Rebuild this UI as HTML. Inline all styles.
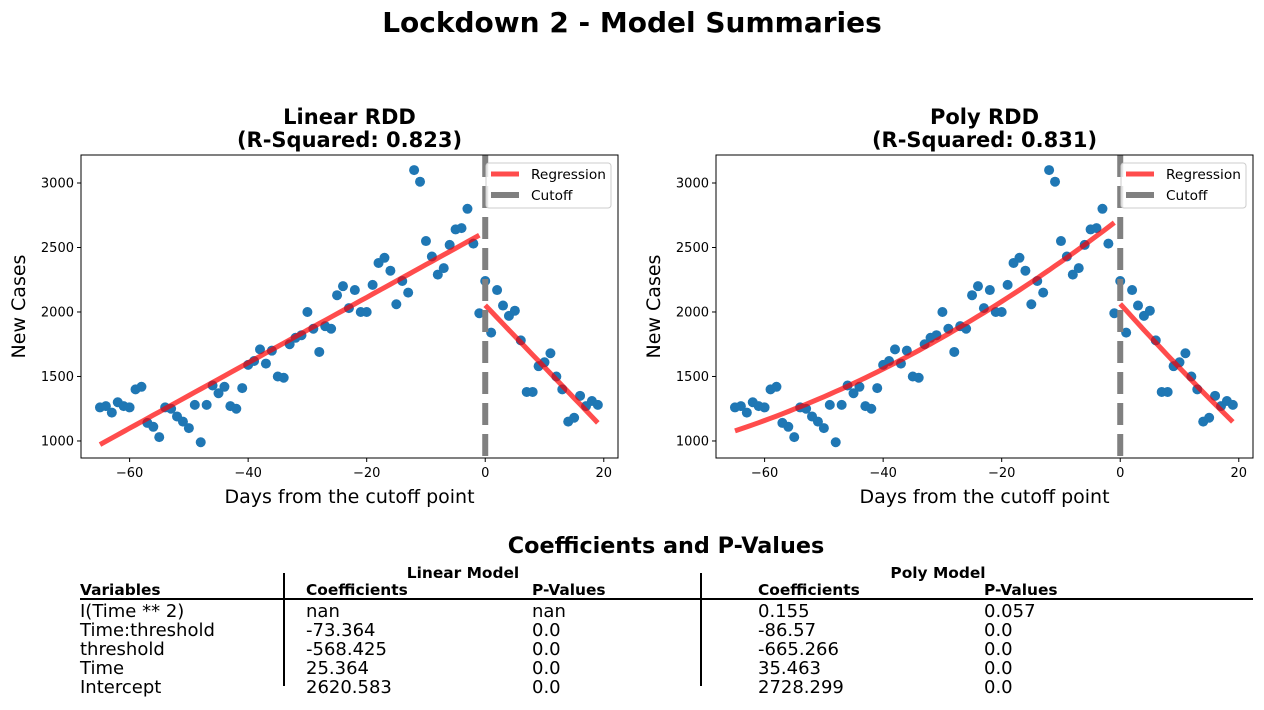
<!DOCTYPE html>
<html><head><meta charset="utf-8"><style>
body{margin:0;background:#fff;width:1264px;height:706px;overflow:hidden;font-family:"DejaVu Sans","Liberation Sans",sans-serif}
svg text{font-family:"DejaVu Sans","Liberation Sans",sans-serif}
</style></head><body>
<svg id="fig" width="1264" height="706" xmlns="http://www.w3.org/2000/svg">
<text x="632" y="32" text-anchor="middle" font-size="28" font-weight="bold">Lockdown 2 - Model Summaries</text>
<g id="c1"></g>
<g id="c2"></g>
<g font-size="18">
<text x="666" y="553" text-anchor="middle" font-size="22.3" font-weight="bold">Coefficients and P-Values</text>
<text x="463" y="578" text-anchor="middle" font-size="15.4" font-weight="bold">Linear Model</text>
<text x="938" y="578" text-anchor="middle" font-size="15.4" font-weight="bold">Poly Model</text>
<g font-size="15.4" font-weight="bold">
<text x="80" y="595">Variables</text><text x="306" y="595">Coefficients</text><text x="532" y="595">P-Values</text><text x="758" y="595">Coefficients</text><text x="984" y="595">P-Values</text></g>
<line x1="284" y1="573" x2="284" y2="686" stroke="#000" stroke-width="2"/>
<line x1="701" y1="573" x2="701" y2="686" stroke="#000" stroke-width="2"/>
<line x1="80" y1="599" x2="1253" y2="599" stroke="#000" stroke-width="2"/>
<g>
<text x="80" y="617">I(Time ** 2)</text><text x="306" y="617">nan</text><text x="532" y="617">nan</text><text x="758" y="617">0.155</text><text x="984" y="617">0.057</text>
<text x="80" y="636">Time:threshold</text><text x="306" y="636">-73.364</text><text x="532" y="636">0.0</text><text x="758" y="636">-86.57</text><text x="984" y="636">0.0</text>
<text x="80" y="655">threshold</text><text x="306" y="655">-568.425</text><text x="532" y="655">0.0</text><text x="758" y="655">-665.266</text><text x="984" y="655">0.0</text>
<text x="80" y="674">Time</text><text x="306" y="674">25.364</text><text x="532" y="674">0.0</text><text x="758" y="674">35.463</text><text x="984" y="674">0.0</text>
<text x="80" y="693">Intercept</text><text x="306" y="693">2620.583</text><text x="532" y="693">0.0</text><text x="758" y="693">2728.299</text><text x="984" y="693">0.0</text>
</g></g>
</svg>
<script>
const days=[-65,-64,-63,-62,-61,-60,-59,-58,-57,-56,-55,-54,-53,-52,-51,-50,-49,-48,-47,-46,-45,-44,-43,-42,-41,-40,-39,-38,-37,-36,-35,-34,-33,-32,-31,-30,-29,-28,-27,-26,-25,-24,-23,-22,-21,-20,-19,-18,-17,-16,-15,-14,-13,-12,-11,-10,-9,-8,-7,-6,-5,-4,-3,-2,-1,0,1,2,3,4,5,6,7,8,9,10,11,12,13,14,15,16,17,18,19];
const cases=[1260,1270,1220,1300,1270,1260,1400,1420,1140,1110,1030,1260,1250,1190,1150,1100,1280,990,1280,1430,1370,1420,1270,1250,1410,1590,1620,1710,1600,1700,1500,1490,1750,1800,1820,2000,1870,1690,1890,1870,2130,2200,2030,2170,2000,2000,2210,2380,2420,2320,2060,2240,2150,3100,3010,2550,2430,2290,2340,2520,2640,2650,2800,2530,1990,2240,1840,2170,2050,1970,2010,1780,1380,1380,1580,1610,1680,1500,1400,1150,1180,1350,1270,1310,1280];
const xTicks=[-60,-40,-20,0,20];
const yTicks=[1000,1500,2000,2500,3000];
const linCoef=[2620.583,25.364,-568.425,-73.364,0];
const polyCoef=[2728.299,35.463,-665.266,-86.57,0.155];
const NS='http://www.w3.org/2000/svg';
function mk(p,t,a,txt){const e=document.createElementNS(NS,t);for(const k in a)e.setAttribute(k,a[k]);if(txt!==undefined)e.textContent=txt;p.appendChild(e);return e;}
function model(c,t){const th=t>=0?1:0;return c[0]+c[1]*t+c[2]*th+c[3]*t*th+c[4]*t*t;}
function chart(id,L,titleA,titleB,coef){
 const g=document.getElementById(id);
 const R=L+537,T=155,B=458;
 const x=v=>L+(v+68.2)/(90.6)*(R-L);
 const y=v=>B-(v-868)/(3217-868)*(B-T);
 const t1=mk(g,'text',{x:(L+R)/2,y:124,'text-anchor':'middle','font-size':21,'font-weight':'bold'},titleA);
 
 const t2=mk(g,'text',{x:(L+R)/2,y:147,'text-anchor':'middle','font-size':21,'font-weight':'bold'},titleB);
 
 xTicks.forEach(v=>{mk(g,'line',{x1:x(v),x2:x(v),y1:B,y2:B+4,stroke:'#000'});
  const t=mk(g,'text',{x:x(v),y:B+19,'text-anchor':'middle','font-size':13},v<0?'\u2212'+(-v):v);
  });
 yTicks.forEach(v=>{mk(g,'line',{x1:L-4,x2:L,y1:y(v),y2:y(v),stroke:'#000'});
  const t=mk(g,'text',{x:L-7,y:y(v)+4.5,'text-anchor':'end','font-size':13},v);
  });
 const xl=mk(g,'text',{x:(L+R)/2,y:503,'text-anchor':'middle','font-size':19},'Days from the cutoff point');
 
 const yl=mk(g,'text',{x:0,y:0,'text-anchor':'middle','font-size':19,transform:`translate(${L-56},${(T+B)/2}) rotate(-90)`},'New Cases');
 
 days.forEach((d,i)=>{const c=mk(g,'circle',{cx:x(d),cy:y(cases[i]),r:5,fill:'#1f77b4'});
  });
 const neg=days.filter(d=>d<0),pos=days.filter(d=>d>=0);
 [neg,pos].forEach(s=>{const p=s.map(d=>x(d).toFixed(1)+','+y(model(coef,d)).toFixed(1)).join(' ');
  const l=mk(g,'polyline',{points:p,fill:'none',stroke:'red','stroke-opacity':0.7,'stroke-width':5});
  });
 const cl=mk(g,'line',{x1:x(0),x2:x(0),y1:T,y2:B,stroke:'#808080','stroke-width':6,'stroke-dasharray':'22 9'});
 
 mk(g,'rect',{x:L,y:T,width:R-L,height:B-T,fill:'none',stroke:'#000','stroke-width':1});
 const lg=mk(g,'g',{});
 
 mk(lg,'rect',{x:R-132,y:163,width:125,height:45,rx:3,fill:'#fff','fill-opacity':0.8,stroke:'#ccc'});
 mk(lg,'line',{x1:R-127,x2:R-99,y1:174,y2:174,stroke:'red','stroke-opacity':0.7,'stroke-width':5});
 mk(lg,'text',{x:R-87,y:179,'font-size':13.7},'Regression');
 mk(lg,'line',{x1:R-127,x2:R-99,y1:195,y2:195,stroke:'#808080','stroke-width':6});
 mk(lg,'text',{x:R-87,y:200,'font-size':13.7},'Cutoff');
}
chart('c1',81,'Linear RDD','(R-Squared: 0.823)',linCoef);
chart('c2',716,'Poly RDD','(R-Squared: 0.831)',polyCoef);
</script>
</body></html>
